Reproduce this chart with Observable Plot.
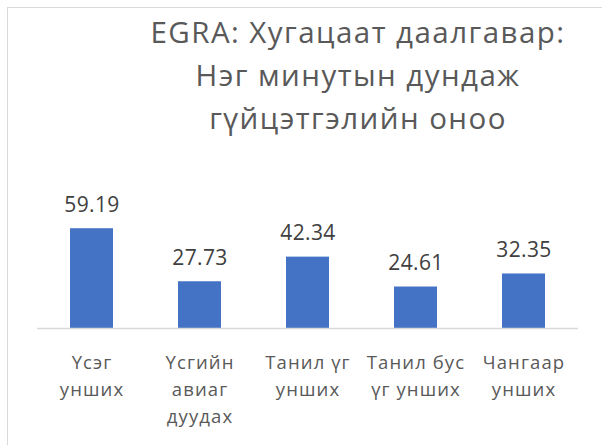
<!DOCTYPE html>
<html>
<head>
<meta charset="utf-8">
<script src="https://cdn.jsdelivr.net/npm/d3@7"></script>
<script src="https://cdn.jsdelivr.net/npm/@observablehq/plot@0.6"></script>
<style>
  html, body { margin: 0; padding: 0; background: #fff; }
  body { width: 602px; height: 445px; position: relative; overflow: hidden; font-family: "Open Sans", sans-serif; }
  #frame { position: absolute; left: 7px; top: 7px; width: 700px; height: 600px;
           border-left: 1.5px solid #d9d9d9; border-top: 1.5px solid #d9d9d9; }
  #title { position: absolute; left: 108px; top: 10px; width: 500px; text-align: center;
           font-size: 29.5px; line-height: 43px; letter-spacing: 1.45px; color: #595959; }
  #chart { position: absolute; left: 0; top: 150px; }
  #chart g[fill="#595959"] text { letter-spacing: 1.1px; }
  #chart g[fill="#404040"] text { letter-spacing: 0.4px; }
</style>
</head>
<body>
<div id="frame"></div>
<div id="title">EGRA: Хугацаат даалгавар:<br>Нэг минутын дундаж<br>гүйцэтгэлийн оноо</div>
<div id="chart"></div>
<script>
const categories = ["Үсэг унших", "Үсгийн авиаг дуудах", "Танил үг унших", "Танил бус үг унших", "Чангаар унших"];
const tickLabels = ["Үсэг\nунших", "Үсгийн\nавиаг\nдуудах", "Танил үг\nунших", "Танил бус\nүг унших", "Чангаар\nунших"];
const values = [59.19, 27.73, 42.34, 24.61, 32.35];

const data = categories.map((c, i) => ({category: c, label: tickLabels[i], value: values[i]}));

const plot = Plot.plot({
  width: 602,
  height: 295,
  marginTop: 60,
  marginBottom: 117,
  marginLeft: 37,
  marginRight: 24,
  style: {fontFamily: "Open Sans, sans-serif", background: "transparent"},
  x: {domain: categories, paddingInner: 0.6, paddingOuter: 0.3, axis: null},
  y: {domain: [0, 70], axis: null},
  marks: [
    Plot.barY(data, {x: "category", y: "value", fill: "#4472C4"}),
    Plot.ruleY([0], {stroke: "#d9d9d9", strokeWidth: 1.5}),
    Plot.text(data, {x: "category", y: "value", text: d => d.value.toFixed(2),
      lineAnchor: "bottom", dy: -17, fontSize: 21, fill: "#404040"}),
    Plot.text(data, {x: "category", y: () => 0, text: "label",
      lineAnchor: "top", dy: 21, fontSize: 18.5, lineHeight: 1.46, fill: "#595959"})
  ]
});
document.getElementById("chart").appendChild(plot);
</script>
</body>
</html>
